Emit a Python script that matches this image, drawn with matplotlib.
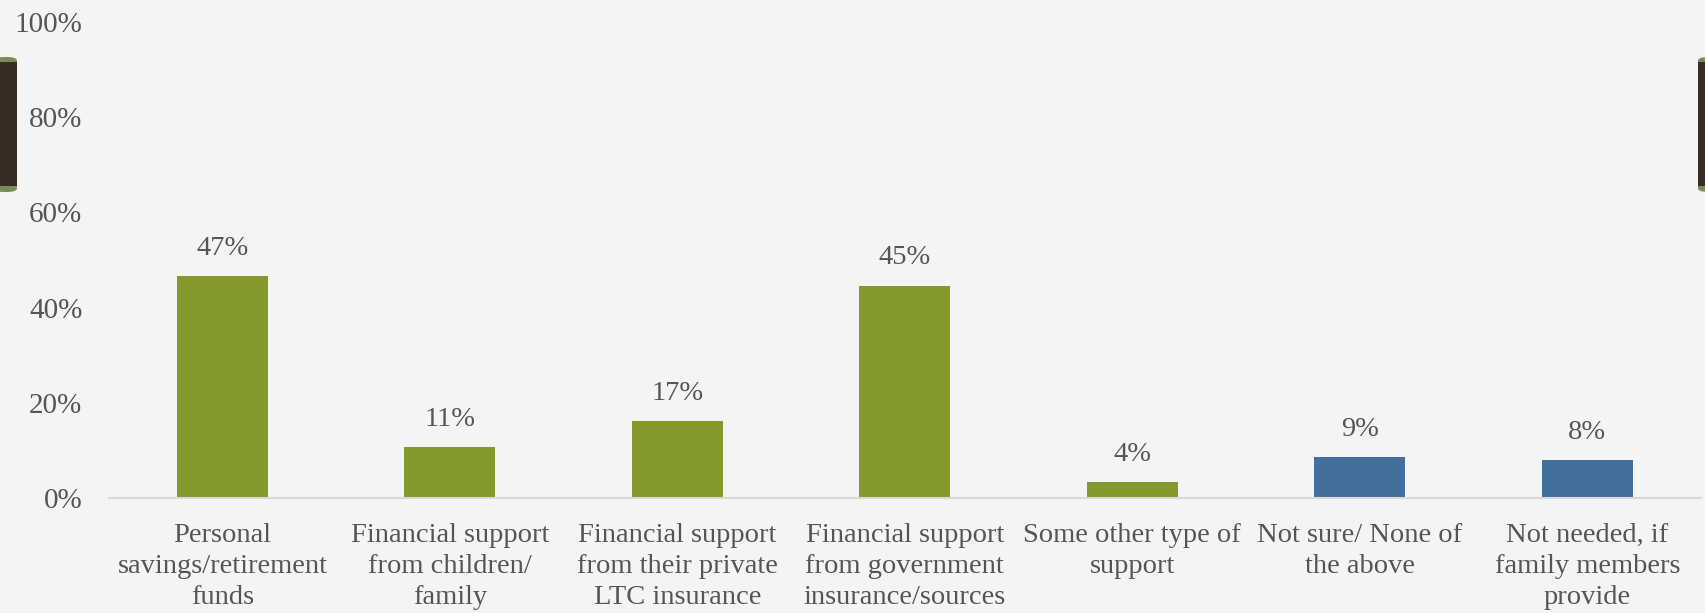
import matplotlib
matplotlib.use("Agg")
import matplotlib.pyplot as plt
from matplotlib.patches import FancyBboxPatch, Rectangle

categories = [
    "Personal\nsavings/retirement\nfunds",
    "Financial support\nfrom children/\nfamily",
    "Financial support\nfrom their private\nLTC insurance",
    "Financial support\nfrom government\ninsurance/sources",
    "Some other type of\nsupport",
    "Not sure/ None of\nthe above",
    "Not needed, if\nfamily members\nprovide",
]
values = [46.6, 10.7, 16.2, 44.6, 3.4, 8.6, 8.0]
value_labels = ["47%", "11%", "17%", "45%", "4%", "9%", "8%"]
bar_colors = ["#84992b", "#84992b", "#84992b", "#84992b", "#84992b", "#426f9b", "#426f9b"]
yticks = [0, 20, 40, 60, 80, 100]
ytick_labels = ["0%", "20%", "40%", "60%", "80%", "100%"]

plt.rcParams['font.family'] = ['Liberation Serif', 'DejaVu Serif']
text_color = "#555555"
bg = "#f4f4f4"

W, H = 1705, 613
fig = plt.figure(figsize=(W / 100, H / 100), dpi=100, facecolor=bg)
ax = fig.add_axes([108.75 / W, 1 - 498 / H, (1701 - 108.75) / W, (498 - 22) / H])
ax.set_facecolor(bg)

x = list(range(len(categories)))
bars = ax.bar(x, values, width=0.4, color=bar_colors, zorder=3)
for xi, v, lab in zip(x, values, value_labels):
    ax.annotate(lab, (xi, v), xytext=(0, 20), textcoords="offset points",
                ha="center", va="center", fontsize=20.5, color=text_color)

ax.set_xlim(-0.5, len(categories) - 0.5)
ax.set_ylim(0, 100)
ax.set_yticks(yticks)
ax.set_yticklabels(ytick_labels, fontsize=21, color=text_color)
ax.set_xticks(x)
ax.set_xticklabels(categories, fontsize=20.5, color=text_color, linespacing=1.32)
ax.tick_params(axis="y", length=0, pad=19)
ax.tick_params(axis="x", length=0, pad=18)
for s in ["top", "right", "left"]:
    ax.spines[s].set_visible(False)
ax.spines["bottom"].set_color("#d9d9d9")
ax.spines["bottom"].set_linewidth(1.5)
ax.spines["bottom"].set_zorder(4)

# decorative side tabs
for x0 in [-6, 1698]:
    wd = 13 / W if x0 > 0 else 23 / W
    fig.patches.append(FancyBboxPatch((x0 / W, 1 - 192 / H), wd, 135 / H,
                                      boxstyle="round,pad=0,rounding_size=0.006",
                                      transform=fig.transFigure, facecolor="#7d8a5a",
                                      edgecolor="none", zorder=5))
    fig.patches.append(Rectangle((x0 / W, 1 - 186 / H), wd, 124 / H,
                                 transform=fig.transFigure, facecolor="#382c22",
                                 edgecolor="none", zorder=6))

fig.savefig("out.png", dpi=100, facecolor=bg)
